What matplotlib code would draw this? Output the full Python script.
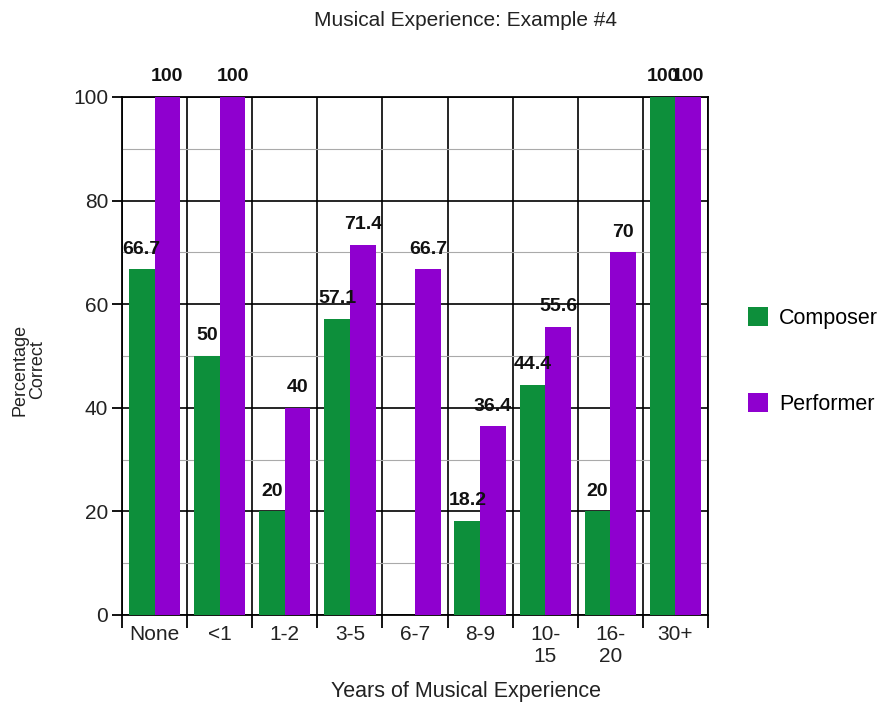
import matplotlib
matplotlib.use("Agg")
import matplotlib.pyplot as plt
import numpy as np
from matplotlib.patches import Patch

categories = ["None", "<1", "1-2", "3-5", "6-7", "8-9", "10-\n15", "16-\n20", "30+"]
composer = [66.7, 50, 20, 57.1, 0, 18.2, 44.4, 20, 100]
performer = [100, 100, 40, 71.4, 66.7, 36.4, 55.6, 70, 100]
composer_labels = ["66.7", "50", "20", "57.1", "", "18.2", "44.4", "20", "100"]
performer_labels = ["100", "100", "40", "71.4", "66.7", "36.4", "55.6", "70", "100"]
y_ticks = [0, 20, 40, 60, 80, 100]

green = "#0d8f3b"
purple = "#8f00cf"

plt.rcParams["font.family"] = ["Liberation Sans", "DejaVu Sans"]

fig = plt.figure(figsize=(8.85, 7.08), dpi=100)
ax = fig.add_axes([122 / 885, 1 - 615 / 708, (708 - 122) / 885, (615 - 97) / 708])

x = np.arange(len(categories))
w = 0.395
b1 = ax.bar(x - w / 2, composer, w, color=green, zorder=3)
b2 = ax.bar(x + w / 2, performer, w, color=purple, zorder=3)

for bars, labels in ((b1, composer_labels), (b2, performer_labels)):
    for rect, lab in zip(bars, labels):
        if lab:
            ax.annotate(lab, (rect.get_x() + rect.get_width() / 2, rect.get_height()),
                        xytext=(0, 8.5), textcoords="offset points", ha="center", va="bottom",
                        fontsize=14, fontweight="bold", color="#111111", zorder=5,
                        annotation_clip=False)

ax.set_xlim(-0.5, len(categories) - 0.5)
ax.set_ylim(0, 100)

ax.set_xticks(x)
ax.set_xticklabels(categories, fontsize=15, color="#222222", linespacing=1.2)
ax.set_xticks(np.arange(-0.5, len(categories), 1.0), minor=True)
ax.tick_params(axis="x", which="major", length=0, pad=7)
ax.tick_params(axis="x", which="minor", length=9, width=1.3, color="black")

ax.set_yticks(y_ticks)
ax.set_yticks(np.arange(10, 100, 20), minor=True)
ax.tick_params(axis="y", which="major", length=7, width=1.3, labelsize=15, labelcolor="#222222", pad=3)
ax.tick_params(axis="y", which="minor", length=0)

ax.grid(True, axis="x", which="minor", color="black", linewidth=1.2, zorder=1)
ax.grid(True, axis="y", which="major", color="black", linewidth=1.2, zorder=1)
ax.grid(True, axis="y", which="minor", color="#aaaaaa", linewidth=0.8, zorder=1)
ax.set_axisbelow(True)

for s in ["top", "right", "left", "bottom"]:
    ax.spines[s].set_visible(True)
    ax.spines[s].set_color("black")
    ax.spines[s].set_linewidth(1.3)

fig.text(466 / 885, 1 - 20 / 708, "Musical Experience: Example #4", ha="center", va="center",
         fontsize=15, color="#222222")
fig.text(466 / 885, 1 - 692 / 708, "Years of Musical Experience", ha="center", va="center",
         fontsize=15.5, color="#222222")
fig.text(29 / 885, 1 - 370 / 708, "Percentage\nCorrect", ha="center", va="center",
         rotation=90, fontsize=13, color="#222222", linespacing=1.0)

handles = [Patch(facecolor=green, edgecolor="none", label="Composer"),
           Patch(facecolor=purple, edgecolor="none", label="Performer")]
fig.legend(handles=handles, loc="center left", bbox_to_anchor=(748 / 885, 1 - 361 / 708),
           frameon=False, fontsize=15.5, handlelength=0.95, handleheight=0.95,
           handletextpad=0.5, labelspacing=3.0, borderpad=0, borderaxespad=0)

fig.savefig("out.png", dpi=100)
